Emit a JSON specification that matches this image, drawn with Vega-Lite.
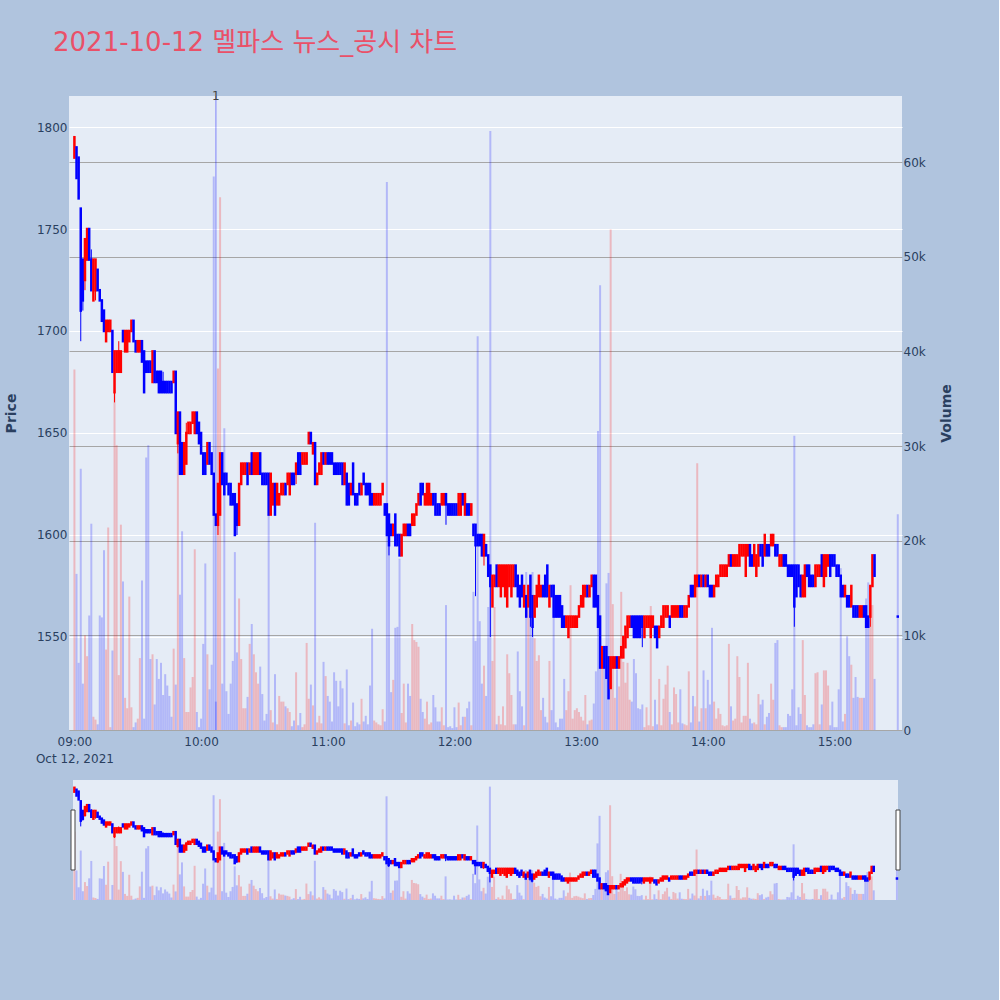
{
"$schema":"https://vega.github.io/schema/vega-lite/v6.json",
"background":"#b0c4de",
"padding":{"left":4,"top":30,"right":46,"bottom":100},
"config":{
 "font":"DejaVu Sans",
 "view":{"stroke":null},
 "axis":{"domain":false,"ticks":false,"labelFont":"DejaVu Sans","labelFontSize":12,"labelColor":"#2a3f5f","titleFont":"DejaVu Sans","titleFontSize":14,"titleFontWeight":"bold","titleColor":"#2a3f5f","gridWidth":1}
},
"data":{"name":"k","format":{"parse":{"t":"utc:'%H:%M'"}}},
"datasets":{
"news":[{"t":"10:07","n":"1"}],
"k":[
{"t":"09:00","o":1785,"h":1795,"l":1785,"c":1795,"v":38100},
{"t":"09:01","o":1790,"h":1790,"l":1775,"c":1775,"v":16500},
{"t":"09:02","o":1785,"h":1785,"l":1765,"c":1765,"v":7100},
{"t":"09:03","o":1760,"h":1760,"l":1695,"c":1710,"v":27600},
{"t":"09:04","o":1735,"h":1735,"l":1710,"c":1715,"v":4900},
{"t":"09:05","o":1725,"h":1745,"l":1720,"c":1745,"v":10000},
{"t":"09:06","o":1735,"h":1750,"l":1735,"c":1750,"v":7800},
{"t":"09:07","o":1750,"h":1750,"l":1735,"c":1735,"v":12100},
{"t":"09:08","o":1735,"h":1740,"l":1720,"c":1720,"v":21800},
{"t":"09:09","o":1715,"h":1735,"l":1715,"c":1735,"v":1400},
{"t":"09:10","o":1720,"h":1735,"l":1715,"c":1735,"v":1100},
{"t":"09:11","o":1730,"h":1730,"l":1720,"c":1720,"v":600},
{"t":"09:12","o":1720,"h":1720,"l":1715,"c":1715,"v":12100},
{"t":"09:13","o":1715,"h":1715,"l":1705,"c":1705,"v":11900},
{"t":"09:14","o":1710,"h":1710,"l":1700,"c":1700,"v":19000},
{"t":"09:15","o":1695,"h":1705,"l":1695,"c":1705,"v":8500},
{"t":"09:16","o":1700,"h":1705,"l":1700,"c":1705,"v":21400},
{"t":"09:17","o":1700,"h":1705,"l":1700,"c":1705,"v":300},
{"t":"09:18","o":1700,"h":1700,"l":1680,"c":1680,"v":8400},
{"t":"09:19","o":1670,"h":1690,"l":1665,"c":1690,"v":35900},
{"t":"09:20","o":1680,"h":1690,"l":1680,"c":1690,"v":30100},
{"t":"09:21","o":1680,"h":1695,"l":1680,"c":1690,"v":5800},
{"t":"09:22","o":1680,"h":1690,"l":1680,"c":1690,"v":21700},
{"t":"09:23","o":1700,"h":1700,"l":1695,"c":1695,"v":15700},
{"t":"09:24","o":1690,"h":1700,"l":1690,"c":1700,"v":3400},
{"t":"09:25","o":1690,"h":1700,"l":1690,"c":1700,"v":2300},
{"t":"09:26","o":1695,"h":1700,"l":1695,"c":1700,"v":14100},
{"t":"09:27","o":1700,"h":1705,"l":1700,"c":1705,"v":2400},
{"t":"09:28","o":1705,"h":1705,"l":1695,"c":1695,"v":300},
{"t":"09:29","o":1695,"h":1695,"l":1690,"c":1690,"v":800},
{"t":"09:30","o":1690,"h":1695,"l":1690,"c":1695,"v":1200},
{"t":"09:31","o":1690,"h":1695,"l":1690,"c":1695,"v":7600},
{"t":"09:32","o":1695,"h":1695,"l":1685,"c":1685,"v":15800},
{"t":"09:33","o":1690,"h":1690,"l":1670,"c":1670,"v":1200},
{"t":"09:34","o":1685,"h":1685,"l":1680,"c":1680,"v":28800},
{"t":"09:35","o":1685,"h":1685,"l":1680,"c":1680,"v":30100},
{"t":"09:36","o":1685,"h":1685,"l":1680,"c":1680,"v":7500},
{"t":"09:37","o":1675,"h":1690,"l":1675,"c":1690,"v":8000},
{"t":"09:38","o":1690,"h":1690,"l":1675,"c":1675,"v":2700},
{"t":"09:39","o":1680,"h":1680,"l":1675,"c":1675,"v":7500},
{"t":"09:40","o":1680,"h":1680,"l":1670,"c":1670,"v":5400},
{"t":"09:41","o":1680,"h":1680,"l":1670,"c":1670,"v":7100},
{"t":"09:42","o":1675,"h":1680,"l":1670,"c":1670,"v":3700},
{"t":"09:43","o":1675,"h":1675,"l":1670,"c":1670,"v":5900},
{"t":"09:44","o":1675,"h":1675,"l":1670,"c":1670,"v":4700},
{"t":"09:45","o":1675,"h":1675,"l":1670,"c":1670,"v":3600},
{"t":"09:46","o":1675,"h":1675,"l":1670,"c":1670,"v":1400},
{"t":"09:47","o":1675,"h":1680,"l":1675,"c":1680,"v":8600},
{"t":"09:48","o":1680,"h":1680,"l":1650,"c":1650,"v":4800},
{"t":"09:49","o":1645,"h":1660,"l":1640,"c":1660,"v":30400},
{"t":"09:50","o":1660,"h":1660,"l":1630,"c":1630,"v":14300},
{"t":"09:51","o":1645,"h":1645,"l":1630,"c":1630,"v":21000},
{"t":"09:52","o":1630,"h":1645,"l":1630,"c":1645,"v":7600},
{"t":"09:53","o":1635,"h":1655,"l":1635,"c":1650,"v":1900},
{"t":"09:54","o":1650,"h":1655,"l":1650,"c":1655,"v":1900},
{"t":"09:55","o":1650,"h":1655,"l":1650,"c":1655,"v":4500},
{"t":"09:56","o":1655,"h":1660,"l":1655,"c":1660,"v":5600},
{"t":"09:57","o":1650,"h":1660,"l":1650,"c":1660,"v":19100},
{"t":"09:58","o":1660,"h":1660,"l":1650,"c":1650,"v":1900},
{"t":"09:59","o":1655,"h":1655,"l":1645,"c":1645,"v":300},
{"t":"10:00","o":1650,"h":1650,"l":1640,"c":1640,"v":1200},
{"t":"10:01","o":1640,"h":1640,"l":1630,"c":1630,"v":9100},
{"t":"10:02","o":1640,"h":1640,"l":1630,"c":1630,"v":17600},
{"t":"10:03","o":1635,"h":1645,"l":1635,"c":1645,"v":8000},
{"t":"10:04","o":1645,"h":1645,"l":1635,"c":1635,"v":4300},
{"t":"10:05","o":1640,"h":1640,"l":1630,"c":1630,"v":6900},
{"t":"10:06","o":1630,"h":1630,"l":1610,"c":1610,"v":58500},
{"t":"10:07","o":1610,"h":1610,"l":1605,"c":1605,"v":3000},
{"t":"10:08","o":1605,"h":1625,"l":1600,"c":1625,"v":38200},
{"t":"10:09","o":1610,"h":1640,"l":1610,"c":1640,"v":56300},
{"t":"10:10","o":1640,"h":1640,"l":1625,"c":1625,"v":4900},
{"t":"10:11","o":1630,"h":1630,"l":1620,"c":1620,"v":31900},
{"t":"10:12","o":1630,"h":1630,"l":1625,"c":1625,"v":4100},
{"t":"10:13","o":1625,"h":1625,"l":1620,"c":1620,"v":1700},
{"t":"10:14","o":1625,"h":1625,"l":1615,"c":1615,"v":4900},
{"t":"10:15","o":1620,"h":1620,"l":1615,"c":1615,"v":7300},
{"t":"10:16","o":1620,"h":1620,"l":1600,"c":1600,"v":18800},
{"t":"10:17","o":1615,"h":1615,"l":1600,"c":1605,"v":8200},
{"t":"10:18","o":1605,"h":1625,"l":1605,"c":1625,"v":13900},
{"t":"10:19","o":1625,"h":1635,"l":1625,"c":1635,"v":7500},
{"t":"10:20","o":1630,"h":1635,"l":1630,"c":1635,"v":2300},
{"t":"10:21","o":1630,"h":1635,"l":1630,"c":1635,"v":2300},
{"t":"10:22","o":1635,"h":1635,"l":1625,"c":1625,"v":3500},
{"t":"10:23","o":1630,"h":1635,"l":1630,"c":1635,"v":9100},
{"t":"10:24","o":1640,"h":1640,"l":1630,"c":1630,"v":11200},
{"t":"10:25","o":1630,"h":1640,"l":1630,"c":1640,"v":8000},
{"t":"10:26","o":1630,"h":1640,"l":1630,"c":1640,"v":6100},
{"t":"10:27","o":1630,"h":1640,"l":1630,"c":1640,"v":4900},
{"t":"10:28","o":1640,"h":1640,"l":1630,"c":1630,"v":6700},
{"t":"10:29","o":1630,"h":1630,"l":1625,"c":1625,"v":3800},
{"t":"10:30","o":1630,"h":1630,"l":1625,"c":1625,"v":1000},
{"t":"10:31","o":1630,"h":1630,"l":1625,"c":1625,"v":1700},
{"t":"10:32","o":1630,"h":1630,"l":1610,"c":1610,"v":22800},
{"t":"10:33","o":1610,"h":1630,"l":1610,"c":1630,"v":2100},
{"t":"10:34","o":1615,"h":1625,"l":1615,"c":1625,"v":800},
{"t":"10:35","o":1625,"h":1625,"l":1610,"c":1610,"v":5900},
{"t":"10:36","o":1615,"h":1625,"l":1615,"c":1625,"v":600},
{"t":"10:37","o":1615,"h":1620,"l":1615,"c":1620,"v":3600},
{"t":"10:38","o":1620,"h":1625,"l":1620,"c":1625,"v":3000},
{"t":"10:39","o":1620,"h":1625,"l":1620,"c":1625,"v":3000},
{"t":"10:40","o":1625,"h":1625,"l":1620,"c":1620,"v":2500},
{"t":"10:41","o":1625,"h":1630,"l":1625,"c":1630,"v":2300},
{"t":"10:42","o":1620,"h":1630,"l":1620,"c":1630,"v":1900},
{"t":"10:43","o":1630,"h":1630,"l":1625,"c":1625,"v":400},
{"t":"10:44","o":1630,"h":1630,"l":1625,"c":1625,"v":1000},
{"t":"10:45","o":1630,"h":1635,"l":1625,"c":1635,"v":6100},
{"t":"10:46","o":1640,"h":1640,"l":1630,"c":1630,"v":500},
{"t":"10:47","o":1640,"h":1640,"l":1630,"c":1630,"v":1800},
{"t":"10:48","o":1635,"h":1640,"l":1635,"c":1640,"v":300},
{"t":"10:49","o":1635,"h":1640,"l":1635,"c":1640,"v":600},
{"t":"10:50","o":1635,"h":1640,"l":1635,"c":1640,"v":9200},
{"t":"10:51","o":1645,"h":1650,"l":1645,"c":1650,"v":3300},
{"t":"10:52","o":1650,"h":1650,"l":1645,"c":1645,"v":4800},
{"t":"10:53","o":1640,"h":1645,"l":1640,"c":1645,"v":2600},
{"t":"10:54","o":1645,"h":1645,"l":1625,"c":1625,"v":21900},
{"t":"10:55","o":1625,"h":1630,"l":1625,"c":1630,"v":800},
{"t":"10:56","o":1630,"h":1635,"l":1630,"c":1635,"v":1500},
{"t":"10:57","o":1630,"h":1640,"l":1630,"c":1640,"v":700},
{"t":"10:58","o":1640,"h":1640,"l":1635,"c":1635,"v":7200},
{"t":"10:59","o":1635,"h":1640,"l":1635,"c":1640,"v":5700},
{"t":"11:00","o":1640,"h":1640,"l":1635,"c":1635,"v":3600},
{"t":"11:01","o":1640,"h":1640,"l":1635,"c":1635,"v":3000},
{"t":"11:02","o":1640,"h":1640,"l":1635,"c":1635,"v":900},
{"t":"11:03","o":1635,"h":1635,"l":1630,"c":1630,"v":6100},
{"t":"11:04","o":1635,"h":1635,"l":1630,"c":1630,"v":5200},
{"t":"11:05","o":1635,"h":1635,"l":1630,"c":1630,"v":2500},
{"t":"11:06","o":1635,"h":1635,"l":1630,"c":1630,"v":5200},
{"t":"11:07","o":1635,"h":1635,"l":1625,"c":1625,"v":4400},
{"t":"11:08","o":1625,"h":1635,"l":1625,"c":1635,"v":700},
{"t":"11:09","o":1630,"h":1630,"l":1615,"c":1615,"v":6400},
{"t":"11:10","o":1625,"h":1625,"l":1615,"c":1615,"v":500},
{"t":"11:11","o":1620,"h":1625,"l":1620,"c":1625,"v":1000},
{"t":"11:12","o":1635,"h":1635,"l":1620,"c":1620,"v":2900},
{"t":"11:13","o":1620,"h":1620,"l":1615,"c":1615,"v":400},
{"t":"11:14","o":1620,"h":1620,"l":1615,"c":1615,"v":800},
{"t":"11:15","o":1625,"h":1625,"l":1620,"c":1620,"v":600},
{"t":"11:16","o":1620,"h":1625,"l":1620,"c":1625,"v":3300},
{"t":"11:17","o":1630,"h":1630,"l":1625,"c":1625,"v":900},
{"t":"11:18","o":1625,"h":1625,"l":1620,"c":1620,"v":1500},
{"t":"11:19","o":1625,"h":1625,"l":1620,"c":1620,"v":600},
{"t":"11:20","o":1625,"h":1625,"l":1615,"c":1615,"v":4700},
{"t":"11:21","o":1620,"h":1620,"l":1615,"c":1615,"v":10700},
{"t":"11:22","o":1615,"h":1620,"l":1615,"c":1620,"v":1000},
{"t":"11:23","o":1615,"h":1620,"l":1615,"c":1620,"v":800},
{"t":"11:24","o":1615,"h":1620,"l":1615,"c":1620,"v":600},
{"t":"11:25","o":1615,"h":1620,"l":1615,"c":1620,"v":500},
{"t":"11:26","o":1620,"h":1625,"l":1620,"c":1625,"v":2200},
{"t":"11:27","o":1615,"h":1615,"l":1610,"c":1610,"v":900},
{"t":"11:28","o":1615,"h":1615,"l":1600,"c":1600,"v":57900},
{"t":"11:29","o":1610,"h":1610,"l":1590,"c":1595,"v":22600},
{"t":"11:30","o":1605,"h":1605,"l":1600,"c":1600,"v":4000},
{"t":"11:31","o":1600,"h":1605,"l":1600,"c":1605,"v":5300},
{"t":"11:32","o":1610,"h":1610,"l":1595,"c":1595,"v":10800},
{"t":"11:33","o":1600,"h":1600,"l":1595,"c":1595,"v":10900},
{"t":"11:34","o":1600,"h":1600,"l":1590,"c":1590,"v":18100},
{"t":"11:35","o":1590,"h":1600,"l":1590,"c":1600,"v":1800},
{"t":"11:36","o":1600,"h":1605,"l":1600,"c":1605,"v":4900},
{"t":"11:37","o":1600,"h":1605,"l":1600,"c":1605,"v":800},
{"t":"11:38","o":1605,"h":1605,"l":1600,"c":1600,"v":4900},
{"t":"11:39","o":1605,"h":1605,"l":1600,"c":1600,"v":3600},
{"t":"11:40","o":1605,"h":1610,"l":1605,"c":1610,"v":11200},
{"t":"11:41","o":1605,"h":1610,"l":1605,"c":1610,"v":9500},
{"t":"11:42","o":1610,"h":1615,"l":1610,"c":1615,"v":9300},
{"t":"11:43","o":1615,"h":1620,"l":1615,"c":1620,"v":8800},
{"t":"11:44","o":1625,"h":1625,"l":1615,"c":1615,"v":3300},
{"t":"11:45","o":1625,"h":1625,"l":1620,"c":1620,"v":1900},
{"t":"11:46","o":1615,"h":1620,"l":1615,"c":1620,"v":1200},
{"t":"11:47","o":1615,"h":1625,"l":1615,"c":1625,"v":3000},
{"t":"11:48","o":1615,"h":1625,"l":1615,"c":1625,"v":600},
{"t":"11:49","o":1615,"h":1620,"l":1615,"c":1620,"v":800},
{"t":"11:50","o":1620,"h":1620,"l":1615,"c":1615,"v":3700},
{"t":"11:51","o":1620,"h":1620,"l":1610,"c":1610,"v":2400},
{"t":"11:52","o":1615,"h":1615,"l":1610,"c":1610,"v":900},
{"t":"11:53","o":1615,"h":1615,"l":1610,"c":1610,"v":900},
{"t":"11:54","o":1615,"h":1620,"l":1615,"c":1620,"v":2400},
{"t":"11:55","o":1615,"h":1620,"l":1615,"c":1620,"v":500},
{"t":"11:56","o":1620,"h":1620,"l":1605,"c":1615,"v":13200},
{"t":"11:57","o":1615,"h":1615,"l":1610,"c":1610,"v":300},
{"t":"11:58","o":1615,"h":1615,"l":1610,"c":1610,"v":400},
{"t":"11:59","o":1615,"h":1615,"l":1610,"c":1610,"v":200},
{"t":"12:00","o":1615,"h":1615,"l":1610,"c":1610,"v":2400},
{"t":"12:01","o":1615,"h":1615,"l":1610,"c":1610,"v":300},
{"t":"12:02","o":1610,"h":1620,"l":1610,"c":1620,"v":2900},
{"t":"12:03","o":1610,"h":1620,"l":1610,"c":1620,"v":500},
{"t":"12:04","o":1620,"h":1620,"l":1615,"c":1615,"v":1400},
{"t":"12:05","o":1610,"h":1620,"l":1610,"c":1620,"v":1400},
{"t":"12:06","o":1615,"h":1615,"l":1610,"c":1610,"v":2300},
{"t":"12:07","o":1615,"h":1615,"l":1610,"c":1610,"v":3000},
{"t":"12:08","o":1610,"h":1615,"l":1610,"c":1615,"v":500},
{"t":"12:09","o":1605,"h":1605,"l":1600,"c":1600,"v":14600},
{"t":"12:10","o":1605,"h":1605,"l":1570,"c":1595,"v":9400},
{"t":"12:11","o":1600,"h":1600,"l":1595,"c":1595,"v":41600},
{"t":"12:12","o":1600,"h":1600,"l":1595,"c":1595,"v":11500},
{"t":"12:13","o":1600,"h":1600,"l":1590,"c":1590,"v":4900},
{"t":"12:14","o":1590,"h":1600,"l":1585,"c":1600,"v":6800},
{"t":"12:15","o":1595,"h":1595,"l":1590,"c":1590,"v":3600},
{"t":"12:16","o":1590,"h":1590,"l":1580,"c":1580,"v":13000},
{"t":"12:17","o":1585,"h":1585,"l":1550,"c":1575,"v":63300},
{"t":"12:18","o":1565,"h":1580,"l":1565,"c":1580,"v":7300},
{"t":"12:19","o":1575,"h":1580,"l":1575,"c":1580,"v":13000},
{"t":"12:20","o":1585,"h":1585,"l":1575,"c":1575,"v":600},
{"t":"12:21","o":1575,"h":1585,"l":1575,"c":1585,"v":1500},
{"t":"12:22","o":1570,"h":1585,"l":1570,"c":1585,"v":600},
{"t":"12:23","o":1575,"h":1585,"l":1575,"c":1585,"v":2500},
{"t":"12:24","o":1570,"h":1585,"l":1570,"c":1585,"v":500},
{"t":"12:25","o":1565,"h":1585,"l":1565,"c":1585,"v":8000},
{"t":"12:26","o":1575,"h":1585,"l":1575,"c":1585,"v":6000},
{"t":"12:27","o":1570,"h":1585,"l":1570,"c":1585,"v":3700},
{"t":"12:28","o":1575,"h":1585,"l":1575,"c":1585,"v":600},
{"t":"12:29","o":1585,"h":1585,"l":1575,"c":1575,"v":600},
{"t":"12:30","o":1580,"h":1580,"l":1570,"c":1570,"v":8300},
{"t":"12:31","o":1575,"h":1575,"l":1565,"c":1565,"v":4100},
{"t":"12:32","o":1580,"h":1580,"l":1570,"c":1570,"v":2500},
{"t":"12:33","o":1565,"h":1575,"l":1565,"c":1575,"v":500},
{"t":"12:34","o":1570,"h":1570,"l":1560,"c":1560,"v":16700},
{"t":"12:35","o":1565,"h":1575,"l":1565,"c":1575,"v":13200},
{"t":"12:36","o":1580,"h":1580,"l":1555,"c":1560,"v":12100},
{"t":"12:37","o":1570,"h":1570,"l":1550,"c":1555,"v":16700},
{"t":"12:38","o":1560,"h":1570,"l":1560,"c":1570,"v":9700},
{"t":"12:39","o":1565,"h":1575,"l":1565,"c":1575,"v":7300},
{"t":"12:40","o":1570,"h":1580,"l":1570,"c":1580,"v":7900},
{"t":"12:41","o":1570,"h":1575,"l":1570,"c":1575,"v":2100},
{"t":"12:42","o":1575,"h":1575,"l":1570,"c":1570,"v":3400},
{"t":"12:43","o":1580,"h":1580,"l":1570,"c":1570,"v":1400},
{"t":"12:44","o":1585,"h":1585,"l":1570,"c":1570,"v":800},
{"t":"12:45","o":1565,"h":1575,"l":1565,"c":1575,"v":7300},
{"t":"12:46","o":1575,"h":1575,"l":1570,"c":1570,"v":2100},
{"t":"12:47","o":1575,"h":1575,"l":1560,"c":1560,"v":15400},
{"t":"12:48","o":1570,"h":1570,"l":1560,"c":1560,"v":800},
{"t":"12:49","o":1570,"h":1570,"l":1560,"c":1560,"v":300},
{"t":"12:50","o":1570,"h":1570,"l":1560,"c":1560,"v":1200},
{"t":"12:51","o":1565,"h":1565,"l":1555,"c":1555,"v":1200},
{"t":"12:52","o":1560,"h":1560,"l":1555,"c":1555,"v":5400},
{"t":"12:53","o":1555,"h":1560,"l":1555,"c":1560,"v":2100},
{"t":"12:54","o":1550,"h":1560,"l":1550,"c":1560,"v":4100},
{"t":"12:55","o":1555,"h":1560,"l":1555,"c":1560,"v":15300},
{"t":"12:56","o":1555,"h":1560,"l":1555,"c":1560,"v":1200},
{"t":"12:57","o":1555,"h":1560,"l":1555,"c":1560,"v":2100},
{"t":"12:58","o":1555,"h":1560,"l":1555,"c":1560,"v":2300},
{"t":"12:59","o":1560,"h":1565,"l":1560,"c":1565,"v":1900},
{"t":"13:00","o":1565,"h":1570,"l":1565,"c":1570,"v":1400},
{"t":"13:01","o":1565,"h":1575,"l":1565,"c":1575,"v":1000},
{"t":"13:02","o":1570,"h":1575,"l":1570,"c":1575,"v":3700},
{"t":"13:03","o":1575,"h":1575,"l":1570,"c":1570,"v":600},
{"t":"13:04","o":1570,"h":1575,"l":1570,"c":1575,"v":1000},
{"t":"13:05","o":1575,"h":1580,"l":1575,"c":1580,"v":1100},
{"t":"13:06","o":1580,"h":1580,"l":1565,"c":1565,"v":2800},
{"t":"13:07","o":1580,"h":1580,"l":1565,"c":1565,"v":6200},
{"t":"13:08","o":1570,"h":1570,"l":1555,"c":1555,"v":31600},
{"t":"13:09","o":1560,"h":1560,"l":1535,"c":1535,"v":47000},
{"t":"13:10","o":1535,"h":1545,"l":1535,"c":1545,"v":6700},
{"t":"13:11","o":1545,"h":1545,"l":1535,"c":1535,"v":6700},
{"t":"13:12","o":1545,"h":1545,"l":1530,"c":1530,"v":15500},
{"t":"13:13","o":1540,"h":1540,"l":1520,"c":1520,"v":16600},
{"t":"13:14","o":1525,"h":1540,"l":1525,"c":1540,"v":52900},
{"t":"13:15","o":1535,"h":1540,"l":1535,"c":1540,"v":13300},
{"t":"13:16","o":1535,"h":1540,"l":1535,"c":1540,"v":3400},
{"t":"13:17","o":1540,"h":1540,"l":1535,"c":1535,"v":6400},
{"t":"13:18","o":1535,"h":1540,"l":1535,"c":1540,"v":4600},
{"t":"13:19","o":1540,"h":1545,"l":1540,"c":1545,"v":14600},
{"t":"13:20","o":1540,"h":1550,"l":1540,"c":1550,"v":7200},
{"t":"13:21","o":1545,"h":1555,"l":1545,"c":1555,"v":5000},
{"t":"13:22","o":1550,"h":1560,"l":1550,"c":1560,"v":7100},
{"t":"13:23","o":1555,"h":1560,"l":1555,"c":1560,"v":3200},
{"t":"13:24","o":1560,"h":1560,"l":1555,"c":1555,"v":3000},
{"t":"13:25","o":1560,"h":1560,"l":1550,"c":1550,"v":7500},
{"t":"13:26","o":1560,"h":1560,"l":1550,"c":1550,"v":6000},
{"t":"13:27","o":1560,"h":1560,"l":1550,"c":1550,"v":2300},
{"t":"13:28","o":1560,"h":1560,"l":1550,"c":1550,"v":2200},
{"t":"13:29","o":1560,"h":1560,"l":1545,"c":1555,"v":2700},
{"t":"13:30","o":1550,"h":1560,"l":1550,"c":1560,"v":300},
{"t":"13:31","o":1555,"h":1560,"l":1555,"c":1560,"v":2400},
{"t":"13:32","o":1555,"h":1560,"l":1555,"c":1560,"v":500},
{"t":"13:33","o":1550,"h":1560,"l":1550,"c":1560,"v":13100},
{"t":"13:34","o":1555,"h":1560,"l":1555,"c":1560,"v":400},
{"t":"13:35","o":1555,"h":1555,"l":1550,"c":1550,"v":3200},
{"t":"13:36","o":1555,"h":1555,"l":1545,"c":1545,"v":600},
{"t":"13:37","o":1550,"h":1555,"l":1550,"c":1555,"v":5400},
{"t":"13:38","o":1555,"h":1560,"l":1555,"c":1560,"v":500},
{"t":"13:39","o":1555,"h":1565,"l":1555,"c":1565,"v":3300},
{"t":"13:40","o":1560,"h":1565,"l":1560,"c":1565,"v":4800},
{"t":"13:41","o":1560,"h":1565,"l":1560,"c":1565,"v":6800},
{"t":"13:42","o":1560,"h":1560,"l":1555,"c":1555,"v":1900},
{"t":"13:43","o":1560,"h":1565,"l":1560,"c":1565,"v":600},
{"t":"13:44","o":1560,"h":1565,"l":1560,"c":1565,"v":4500},
{"t":"13:45","o":1560,"h":1565,"l":1560,"c":1565,"v":3800},
{"t":"13:46","o":1560,"h":1565,"l":1560,"c":1565,"v":800},
{"t":"13:47","o":1565,"h":1565,"l":1560,"c":1560,"v":4300},
{"t":"13:48","o":1565,"h":1565,"l":1560,"c":1560,"v":700},
{"t":"13:49","o":1560,"h":1565,"l":1560,"c":1565,"v":600},
{"t":"13:50","o":1560,"h":1565,"l":1560,"c":1565,"v":500},
{"t":"13:51","o":1565,"h":1570,"l":1565,"c":1570,"v":6200},
{"t":"13:52","o":1575,"h":1575,"l":1570,"c":1570,"v":800},
{"t":"13:53","o":1575,"h":1575,"l":1570,"c":1570,"v":3600},
{"t":"13:54","o":1570,"h":1580,"l":1570,"c":1580,"v":2500},
{"t":"13:55","o":1575,"h":1580,"l":1575,"c":1580,"v":28200},
{"t":"13:56","o":1580,"h":1580,"l":1575,"c":1575,"v":900},
{"t":"13:57","o":1575,"h":1580,"l":1575,"c":1580,"v":2300},
{"t":"13:58","o":1580,"h":1580,"l":1575,"c":1575,"v":6300},
{"t":"13:59","o":1575,"h":1580,"l":1575,"c":1580,"v":2300},
{"t":"14:00","o":1580,"h":1580,"l":1575,"c":1575,"v":5300},
{"t":"14:01","o":1575,"h":1575,"l":1570,"c":1570,"v":2700},
{"t":"14:02","o":1575,"h":1575,"l":1570,"c":1570,"v":10800},
{"t":"14:03","o":1570,"h":1575,"l":1570,"c":1575,"v":3000},
{"t":"14:04","o":1575,"h":1580,"l":1575,"c":1580,"v":1200},
{"t":"14:05","o":1575,"h":1580,"l":1575,"c":1580,"v":2300},
{"t":"14:06","o":1580,"h":1585,"l":1580,"c":1585,"v":1700},
{"t":"14:07","o":1580,"h":1585,"l":1580,"c":1585,"v":500},
{"t":"14:08","o":1580,"h":1585,"l":1580,"c":1585,"v":400},
{"t":"14:09","o":1580,"h":1585,"l":1580,"c":1585,"v":500},
{"t":"14:10","o":1585,"h":1590,"l":1585,"c":1590,"v":9100},
{"t":"14:11","o":1590,"h":1590,"l":1585,"c":1585,"v":2500},
{"t":"14:12","o":1585,"h":1590,"l":1585,"c":1590,"v":1000},
{"t":"14:13","o":1585,"h":1590,"l":1585,"c":1590,"v":1200},
{"t":"14:14","o":1585,"h":1590,"l":1585,"c":1590,"v":7800},
{"t":"14:15","o":1585,"h":1595,"l":1585,"c":1595,"v":5600},
{"t":"14:16","o":1590,"h":1595,"l":1590,"c":1595,"v":800},
{"t":"14:17","o":1590,"h":1595,"l":1590,"c":1595,"v":1500},
{"t":"14:18","o":1580,"h":1595,"l":1580,"c":1595,"v":1500},
{"t":"14:19","o":1590,"h":1595,"l":1590,"c":1595,"v":7100},
{"t":"14:20","o":1595,"h":1595,"l":1585,"c":1585,"v":1200},
{"t":"14:21","o":1590,"h":1590,"l":1585,"c":1585,"v":700},
{"t":"14:22","o":1585,"h":1595,"l":1585,"c":1595,"v":800},
{"t":"14:23","o":1580,"h":1590,"l":1580,"c":1590,"v":600},
{"t":"14:24","o":1585,"h":1595,"l":1585,"c":1595,"v":3800},
{"t":"14:25","o":1595,"h":1595,"l":1590,"c":1590,"v":2700},
{"t":"14:26","o":1595,"h":1595,"l":1585,"c":1585,"v":3200},
{"t":"14:27","o":1590,"h":1600,"l":1590,"c":1600,"v":600},
{"t":"14:28","o":1595,"h":1595,"l":1590,"c":1590,"v":1400},
{"t":"14:29","o":1595,"h":1595,"l":1590,"c":1590,"v":1800},
{"t":"14:30","o":1595,"h":1600,"l":1595,"c":1600,"v":4900},
{"t":"14:31","o":1595,"h":1600,"l":1595,"c":1600,"v":3200},
{"t":"14:32","o":1595,"h":1595,"l":1590,"c":1590,"v":9200},
{"t":"14:33","o":1595,"h":1595,"l":1590,"c":1590,"v":9500},
{"t":"14:34","o":1585,"h":1590,"l":1585,"c":1590,"v":500},
{"t":"14:35","o":1585,"h":1590,"l":1585,"c":1590,"v":300},
{"t":"14:36","o":1590,"h":1590,"l":1585,"c":1585,"v":300},
{"t":"14:37","o":1590,"h":1590,"l":1585,"c":1585,"v":300},
{"t":"14:38","o":1585,"h":1585,"l":1580,"c":1580,"v":1700},
{"t":"14:39","o":1585,"h":1585,"l":1580,"c":1580,"v":1500},
{"t":"14:40","o":1585,"h":1585,"l":1580,"c":1580,"v":4300},
{"t":"14:41","o":1585,"h":1585,"l":1555,"c":1565,"v":31100},
{"t":"14:42","o":1585,"h":1585,"l":1570,"c":1570,"v":500},
{"t":"14:43","o":1585,"h":1585,"l":1575,"c":1575,"v":2400},
{"t":"14:44","o":1580,"h":1580,"l":1570,"c":1570,"v":1700},
{"t":"14:45","o":1570,"h":1580,"l":1570,"c":1580,"v":9500},
{"t":"14:46","o":1570,"h":1585,"l":1570,"c":1585,"v":3700},
{"t":"14:47","o":1585,"h":1585,"l":1580,"c":1580,"v":500},
{"t":"14:48","o":1585,"h":1585,"l":1575,"c":1575,"v":300},
{"t":"14:49","o":1580,"h":1580,"l":1575,"c":1575,"v":300},
{"t":"14:50","o":1580,"h":1580,"l":1575,"c":1575,"v":600},
{"t":"14:51","o":1575,"h":1585,"l":1575,"c":1585,"v":6000},
{"t":"14:52","o":1580,"h":1585,"l":1580,"c":1585,"v":6100},
{"t":"14:53","o":1580,"h":1585,"l":1580,"c":1585,"v":600},
{"t":"14:54","o":1590,"h":1590,"l":1580,"c":1580,"v":2700},
{"t":"14:55","o":1575,"h":1590,"l":1575,"c":1590,"v":6300},
{"t":"14:56","o":1580,"h":1590,"l":1580,"c":1590,"v":6300},
{"t":"14:57","o":1585,"h":1590,"l":1585,"c":1590,"v":4700},
{"t":"14:58","o":1590,"h":1590,"l":1580,"c":1580,"v":500},
{"t":"14:59","o":1590,"h":1590,"l":1585,"c":1585,"v":3000},
{"t":"15:00","o":1590,"h":1590,"l":1585,"c":1585,"v":300},
{"t":"15:01","o":1585,"h":1585,"l":1580,"c":1580,"v":300},
{"t":"15:02","o":1585,"h":1585,"l":1580,"c":1580,"v":4300},
{"t":"15:03","o":1580,"h":1580,"l":1570,"c":1570,"v":17100},
{"t":"15:04","o":1575,"h":1575,"l":1570,"c":1570,"v":900},
{"t":"15:05","o":1570,"h":1575,"l":1570,"c":1575,"v":1700},
{"t":"15:06","o":1570,"h":1570,"l":1565,"c":1565,"v":9900},
{"t":"15:07","o":1570,"h":1570,"l":1565,"c":1565,"v":7800},
{"t":"15:08","o":1565,"h":1575,"l":1565,"c":1575,"v":6900},
{"t":"15:09","o":1565,"h":1565,"l":1560,"c":1560,"v":3400},
{"t":"15:10","o":1565,"h":1565,"l":1560,"c":1560,"v":5600},
{"t":"15:11","o":1565,"h":1565,"l":1560,"c":1560,"v":3500},
{"t":"15:12","o":1560,"h":1565,"l":1560,"c":1565,"v":3400},
{"t":"15:13","o":1560,"h":1565,"l":1560,"c":1565,"v":3400},
{"t":"15:14","o":1565,"h":1565,"l":1560,"c":1560,"v":3400},
{"t":"15:15","o":1565,"h":1565,"l":1555,"c":1555,"v":13900},
{"t":"15:16","o":1560,"h":1560,"l":1555,"c":1555,"v":15600},
{"t":"15:17","o":1560,"h":1575,"l":1555,"c":1575,"v":13200},
{"t":"15:18","o":1575,"h":1590,"l":1575,"c":1590,"v":13200},
{"t":"15:19","o":1590,"h":1590,"l":1580,"c":1580,"v":5400},
{"t":"15:30","o":1560,"h":1560,"l":1560,"c":1560,"v":22800}
]},
"vconcat":[
{
 "width":833,"height":634,
 "view":{"fill":"#e5ecf6","stroke":null},
 "title":{"text":"2021-10-12 멜파스 뉴스_공시 차트","anchor":"start","frame":"group","font":"DejaVu Sans, Noto Sans CJK KR","fontSize":26,"fontWeight":"normal","color":"#ea5068","baseline":"alphabetic","offset":13,"dx":-16},
 "layer":[
  {"mark":{"type":"rule","strokeWidth":2},
   "encoding":{
    "x":{"field":"t","type":"temporal","title":"Oct 12, 2021",
      "scale":{"type":"utc","domain":[{"year":1900,"month":1,"date":1,"hours":8,"minutes":57,"seconds":26,"utc":true},{"year":1900,"month":1,"date":1,"hours":15,"minutes":32,"seconds":0,"utc":true}]},
      "axis":{"orient":"bottom","values":[{"year":1900,"month":1,"date":1,"hours":9,"utc":true},{"year":1900,"month":1,"date":1,"hours":10,"utc":true},{"year":1900,"month":1,"date":1,"hours":11,"utc":true},{"year":1900,"month":1,"date":1,"hours":12,"utc":true},{"year":1900,"month":1,"date":1,"hours":13,"utc":true},{"year":1900,"month":1,"date":1,"hours":14,"utc":true},{"year":1900,"month":1,"date":1,"hours":15,"utc":true}],
       "labelExpr":"utcFormat(datum.value, '%H:%M')","labelPadding":6,"labelFlush":false,"grid":false,
       "titleFontWeight":"normal","titleFontSize":12,"titleAnchor":"start","titleAlign":"center","titleX":5.4,"titleY":32,"titleBaseline":"alphabetic"}},
    "y":{"field":"v","type":"quantitative","scale":{"domain":[0,67000]},
      "axis":{"orient":"right","title":"Volume","values":[0,10000,20000,30000,40000,50000,60000],"labelExpr":"datum.value == 0 ? '0' : (datum.value/1000) + 'k'","grid":true,"gridColor":"#a6a6a6","labelPadding":1,"titleAngle":-90,"titleBaseline":"alphabetic","titleX":48}},
    "y2":{"datum":0},
    "color":{"condition":{"test":"datum.c > datum.o","value":"rgba(255,0,0,0.22)"},"value":"rgba(0,0,255,0.22)"}
   }},
  {"mark":{"type":"rule","strokeWidth":1},
   "encoding":{
    "x":{"field":"t","type":"temporal","title":"Oct 12, 2021"},
    "y":{"field":"l","type":"quantitative","scale":{"domain":[1504.4,1815.2],"zero":false},
      "axis":{"orient":"left","title":"Price","values":[1550,1600,1650,1700,1750,1800],"format":"d","grid":true,"gridColor":"#ffffff","labelPadding":2,"titleBaseline":"alphabetic","titleX":-54}},
    "y2":{"field":"h"},
    "color":{"condition":{"test":"datum.c > datum.o","value":"#ff0000"},"value":"#0000ff"}}},
  {"mark":{"type":"rule","strokeWidth":2.5,"strokeCap":"square"},
   "encoding":{
    "x":{"field":"t","type":"temporal","title":"Oct 12, 2021"},
    "y":{"field":"o","type":"quantitative","scale":{"domain":[1504.4,1815.2],"zero":false},"axis":null},
    "y2":{"field":"c"},
    "color":{"condition":{"test":"datum.c > datum.o","value":"#ff0000"},"value":"#0000ff"}}},
  {"data":{"name":"news","format":{"parse":{"t":"utc:'%H:%M'"}}},
   "mark":{"type":"rule","strokeWidth":1.5,"color":"rgba(0,0,255,0.3)"},
   "encoding":{"x":{"field":"t","type":"temporal","title":"Oct 12, 2021"}}},
  {"data":{"name":"news","format":{"parse":{"t":"utc:'%H:%M'"}}},
   "mark":{"type":"text","fontSize":12,"color":"#444444","baseline":"alphabetic","dy":4},
   "encoding":{"x":{"field":"t","type":"temporal","title":"Oct 12, 2021"},"y":{"datum":1815.2,"type":"quantitative","scale":{"domain":[1504.4,1815.2],"zero":false},"axis":null},"text":{"field":"n"}}}
 ],
 "resolve":{"scale":{"y":"independent"}}
},
{
 "width":825,"height":120,
 "view":{"fill":"#e5ecf6","stroke":null},
 "layer":[
  {"mark":{"type":"rule","strokeWidth":2},
   "encoding":{
    "x":{"field":"t","type":"temporal","axis":null,
      "scale":{"type":"utc","domain":[{"year":1900,"month":1,"date":1,"hours":8,"minutes":59,"seconds":20,"utc":true},{"year":1900,"month":1,"date":1,"hours":15,"minutes":30,"seconds":30,"utc":true}]}},
    "y":{"field":"v","type":"quantitative","scale":{"domain":[0,67000]},"axis":null},
    "y2":{"datum":0},
    "color":{"condition":{"test":"datum.c > datum.o","value":"rgba(255,0,0,0.22)"},"value":"rgba(0,0,255,0.22)"}}},
  {"mark":{"type":"rule","strokeWidth":1},
   "encoding":{
    "x":{"field":"t","type":"temporal","axis":null},
    "y":{"field":"l","type":"quantitative","scale":{"domain":[1504.4,1815.2],"zero":false},"axis":null},
    "y2":{"field":"h"},
    "color":{"condition":{"test":"datum.c > datum.o","value":"#ff0000"},"value":"#0000ff"}}},
  {"mark":{"type":"rule","strokeWidth":2.5,"strokeCap":"square"},
   "encoding":{
    "x":{"field":"t","type":"temporal","axis":null},
    "y":{"field":"o","type":"quantitative","scale":{"domain":[1504.4,1815.2],"zero":false},"axis":null},
    "y2":{"field":"c"},
    "color":{"condition":{"test":"datum.c > datum.o","value":"#ff0000"},"value":"#0000ff"}}},
  {"data":{"values":[{}]},
   "mark":{"type":"tick","orient":"vertical","size":60,"thickness":4,"color":"#ffffff","stroke":"#444444","strokeWidth":1,"opacity":1,"filled":true},
   "encoding":{"x":{"datum":{"year":1900,"month":1,"date":1,"hours":8,"minutes":59,"seconds":20,"utc":true},"type":"temporal","axis":null},"y":{"datum":1659.8,"type":"quantitative","scale":{"domain":[1504.4,1815.2],"zero":false},"axis":null}}},
  {"data":{"values":[{}]},
   "mark":{"type":"tick","orient":"vertical","size":60,"thickness":4,"color":"#ffffff","stroke":"#444444","strokeWidth":1,"opacity":1,"filled":true},
   "encoding":{"x":{"datum":{"year":1900,"month":1,"date":1,"hours":15,"minutes":30,"seconds":30,"utc":true},"type":"temporal","axis":null},"y":{"datum":1659.8,"type":"quantitative","scale":{"domain":[1504.4,1815.2],"zero":false},"axis":null}}}
 ],
 "resolve":{"scale":{"y":"independent"}}
}
],
"spacing":50,
"bounds":"flush",
"center":true,
"resolve":{"scale":{"x":"independent","y":"independent"}}
}
